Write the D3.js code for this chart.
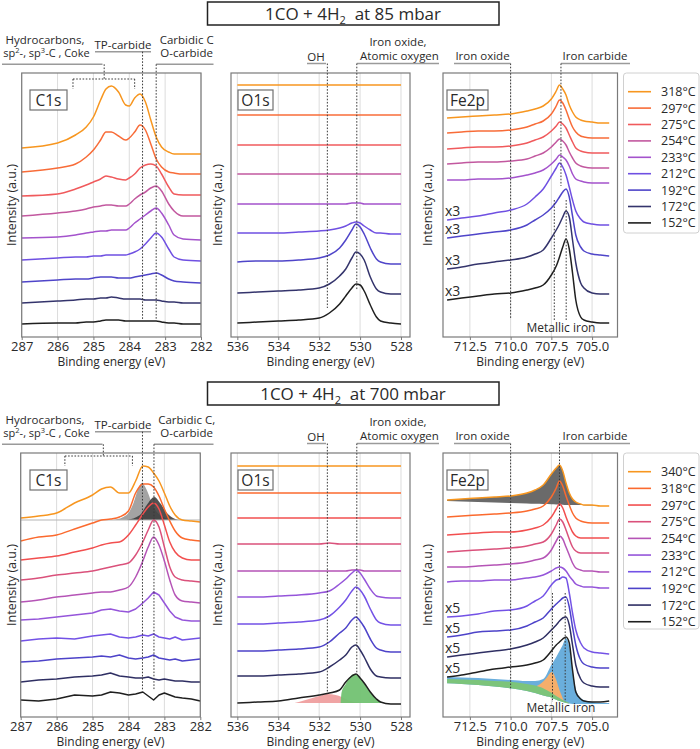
<!DOCTYPE html>
<html><head><meta charset="utf-8">
<script src="https://cdn.jsdelivr.net/npm/d3@7"></script>
<style>
body{margin:0;background:#fff}
svg{display:block}
text{font-family:"Open Sans",sans-serif;fill:#2a2a2a}
</style>
</head><body>
<svg id="c" width="700" height="749"></svg>
<script>
// ---------------- DATA ----------------
const temps85 = [318,297,275,254,233,212,192,172,152];
const temps700 = [340,318,297,275,254,233,212,192,172,152];
const colors85 = ["#f7961f","#f86c38","#f05a5c","#c2589f","#a453cc","#6f50e2","#4f45c9","#34346c","#1f1f1f"];
const colors700 = ["#f7961f","#fb6a2e","#f24f4f","#da517b","#b554b6","#9555da","#7352e6","#4d43c9","#2f2f63","#1f1f1f"];

const c1sTicks = [287,286,285,284,283,282];
const o1sTicks = [536,534,532,530,528];
const fe2pTicks = [712.5,710.0,707.5,705.0];

// C1s, 85 mbar
const c1sE85 = [287,286,285.5,285.2,285,284.8,284.65,284.5,284.3,284.1,284,283.85,283.7,283.55,283.4,283.25,283.1,282.9,282.75,282.5,282];
const c1s85 = [
 [189,194,202,210,220,237,248,251,245,232,231,239,243,235,217,200,190,185,183,183,183],
 [165,169,173,180,187,197,205,205,201,197,199,205,212,207,193,178,170,165,164,163,163],
 [141,143,148,152,155,158,161,160,158,157,159,163,169,172,173,171,163,150,143,142,142],
 [121,124,126,128,130,131,132,132,131,131,133,138,142,145,149,151,146,133,126,121,121],
 [99,100,102,104,105,106,106,107,107,107,109,114,118,122,126,129,124,112,102,98,97],
 [77,79,80,80,81,81,82,82,82,82,83,85,88,93,99,104,100,88,80,77,76],
 [55,57,58,58,59,60,60,60,59,59,59,60,61,62,63,64,62,58,56,55,54],
 [34,36,37,38,38,39,39,40,39,38,38,38,38,37,37,37,36,35,35,34,34],
 [13,14,14,15,15,16,17,17,17,16,16,16,16,16,16,16,15,14,14,13,13]
];

// O1s (both pressures share the energy grid)
const o1sE = [536,535,534,533,532,531.5,531,530.7,530.4,530.2,530,529.8,529.5,529.2,529,528.5,528];
const o1s85 = [
 [252,252,252,252,252,252,252,252,252,252,252,252,252,252,252,252,252],
 [222,222,222,222,222,222,222,222,222,222,222,222,222,222,222,222,222],
 [192,192,192,192,192,192,192,192,192,192,192,192,192,192,192,192,192],
 [163,163,163,163,163,163,163,163,163,163,163,163,163,163,163,163,163],
 [133,133,133,133,133,133,133,133,134,134,134,133,133,133,133,133,133],
 [104,104,104,105,106,107,109,111,114,115,114,111,107,104,104,103,103],
 [75,76,76,77,79,82,89,97,107,113,110,103,89,78,75,73,73],
 [44,45,46,47,49,53,61,68,79,85,83,77,60,48,45,43,43],
 [14,15,16,17,19,24,33,41,49,53,52,46,32,20,16,14,13]
];

// Fe2p (both pressures share the energy grid)
const fe2pE = [713.9,713,712,711,710,709,708.5,708,707.5,707.2,707,706.8,706.6,706.4,706.2,706,705.7,705.5,705,704.5,703.95];
const fe2p85 = [
 [219,220,221,222,223,226,228,231,238,246,252,248,242,232,225,220,217,216,215,214,214],
 [204,205,206,206,207,210,213,216,223,231,237,234,227,218,210,205,201,200,199,199,199],
 [188,189,190,190,191,194,197,200,206,211,215,213,209,202,195,189,186,185,184,184,184],
 [173,174,175,175,176,178,181,184,190,195,198,196,192,185,179,174,171,170,169,169,169],
 [157,157,158,158,159,162,164,167,173,178,182,180,177,171,163,158,156,155,154,154,154],
 [117,119,121,124,127,133,140,148,161,169,174,170,162,150,137,126,118,115,113,112,112],
 [99,101,103,105,107,112,117,122,129,135,140,145,148,140,121,102,90,86,83,82,81],
 [68,70,73,75,77,80,83,87,99,107,113,120,126,120,97,74,54,49,44,43,43],
 [37,39,41,43,44,47,49,52,62,71,80,90,98,88,64,37,20,17,15,14,14]
];
const fe2pScale85 = ["","","","","","x3","x3","x3","x3"];

// C1s, 700 mbar
const c1sE700 = [287,286.5,286,285.5,285,284.75,284.5,284.25,284,283.8,283.6,283.45,283.3,283.15,283,282.85,282.7,282.5,282.25,282];
const c1s700 = [
 [199,201,204,214,222,228,230,224,224,236,251,250,244,236,224,211,202,197,196,195],
 [176,180,182,188,194,197,198,200,206,224,233,233,230,221,208,196,186,179,177,176],
 [157,159,161,165,169,172,174,175,182,192,203,210,214,208,192,175,165,159,157,157],
 [137,139,142,144,146,148,150,152,154,162,175,187,197,190,170,150,140,137,136,135],
 [115,117,120,122,124,125,125,127,130,140,156,170,180,172,156,137,122,116,115,114],
 [97,98,100,102,104,107,108,106,105,108,114,119,125,122,114,106,100,97,96,96],
 [76,78,79,78,81,82,83,80,79,80,82,81,83,80,79,78,80,77,78,79],
 [55,56,58,59,60,61,60,62,59,58,59,60,62,59,58,57,58,56,57,58],
 [35,37,38,40,41,42,44,41,40,39,39,40,38,37,38,37,36,36,35,35],
 [17,16,18,22,21,22,25,24,22,23,25,21,17,22,24,22,20,19,18,16]
];
const c1sFitBase = 197;
const c1sTpE = [284.42,284.05,283.86,283.72,283.63,283.49,283.35,283.21,283.03,282.84];
const c1sTpV = [197,202,214,229,234,227,214,205,200,197];
const c1sOcE = [284.05,283.68,283.49,283.28,283.12,282.93,282.7,282.56];
const c1sOcV = [197,202,212,220,214,204,198,197];

// O1s, 700 mbar
const o1s700 = [
 [251,251,251,251,251,251,251,251,251,251,251,251,251,251,251,251,251],
 [224,224,224,224,224,224,224,224,224,224,224,224,224,224,224,224,224],
 [199,199,199,199,199,199,199,199,199,199,199,199,199,199,199,199,199],
 [173,173,173,173,173,174,173,173,173,173,173,173,173,173,173,173,173],
 [146,146,146,146,146,146,146,146,147,147,147,146,146,146,146,146,146],
 [120,120,121,122,124,126,133,138,144,147,144,138,128,121,120,119,119],
 [93,93,94,95,97,101,110,117,126,130,127,121,108,97,94,92,92],
 [66,66,67,68,70,75,84,89,97,100,96,90,78,69,67,65,65],
 [41,41,42,43,45,50,57,62,70,72,67,60,48,41,40,39,39],
 [14,15,16,19,22,24,27,35,41,43,39,34,25,18,15,13,13]
];
const o1sOhE = [533.2,533,532.5,532,531.6,531.2,530.9,530.6,530.3,530];
const o1sOhV = [14,15,18,21,23,22,20,17,15,14];
const o1sOxE = [530.95,530.9,530.7,530.5,530.3,530.2,530,529.8,529.5,529.2,529,528.8];
const o1sOxV = [14,25,33,40,43,43,39,34,25,18,15,14];
const o1sFitBase = 14;

// Fe2p, 700 mbar
const fe2p700 = [
 [217,218,219,220,221,224,227,232,243,249,252,246,234,224,218,215,213,212,212,211,211],
 [200,201,202,203,204,206,208,211,220,229,236,231,221,212,204,199,196,195,194,194,194],
 [182,183,184,185,185,187,189,192,200,208,213,209,200,192,185,181,179,179,179,179,179],
 [165,166,167,168,169,171,173,175,183,192,198,195,187,178,170,166,164,164,164,164,164],
 [150,150,151,152,153,155,157,159,167,176,181,178,170,162,154,149,147,146,146,145,145],
 [135,136,136,137,137,139,140,142,146,149,150,149,146,141,137,133,131,130,130,129,129],
 [100,101,103,106,107,111,116,121,132,137,138,140,139,124,104,87,74,69,65,64,63],
 [80,82,85,86,87,91,95,99,108,113,116,119,120,110,90,72,57,53,50,49,49],
 [60,62,64,66,68,72,75,79,87,92,96,99,100,92,72,52,38,34,31,30,30],
 [40,42,45,48,50,52,54,57,66,72,75,78,80,74,47,25,18,16,15,15,16]
];
const fe2pScale700 = ["","","","","","","x5","x5","x5","x5"];
const fe2pGrayBase = [216,215.5,215,214.5,214,213.5,213.2,213,212.8,212.6,212.4,212.2,212,212,212,212,212,211.8,211.5,211,211];
const fe2pBlueTop = [40,39.5,39,38,37,36,36,38,52,60,66,72,79,70,48,28,19,17,15,14,14];
const fe2pBlueBot = [33.7,33,32,30.5,28.7,26,24,21.5,19.5,17.2,16,15,14,13.5,13,13,13,13,13,13,13];
const fe2pGreenE = [713.9,713,712,711,710,709,708.5,708,707.5,707.2,707,706.8,706.6,706.4];
const fe2pGreenTop = [38,37.5,37,36,35.3,33,31.5,29,25,21,19,17,15.5,14];
const fe2pGreenBot = [33.7,33,32,30.5,28.7,26,24,21.5,19.5,17.2,16,15,14,13.5];
const fe2pOrE = [708.4,708.1,707.8,707.47,707.2,707,706.75];
const fe2pOrTop = [31,34,39,45,37,27,17];
const fe2pOrBot = [31,29.5,27,24,21,19,16.5];

// ---------------- DRAWING ----------------
const svg = d3.select("#c");
const DOT = "1.6,1.6";

function drawPanel(p){
  const g = svg.append("g");
  const x = d3.scaleLinear().domain(p.dom).range([p.x0,p.x1]);
  const y = d3.scaleLinear().domain([0,264]).range([p.y1,p.y0]);
  p.xs = x; p.ys = y;
  g.selectAll("line.grid").data(p.ticks).join("line")
    .attr("x1",d=>x(d)).attr("x2",d=>x(d)).attr("y1",p.y0).attr("y2",p.y1)
    .attr("stroke","#dcdcdc").attr("stroke-width",1);
  (p.fills||[]).forEach(f=>{
    const area = d3.area().x((d,i)=>x(f.E[i]))
      .y0((d,i)=>y(Array.isArray(f.lo)?f.lo[i]:f.lo)).y1(d=>y(d))
      .curve(d3.curveMonotoneX);
    g.append("path").datum(f.hi).attr("d",area).attr("fill",f.color).attr("opacity",f.op||1);
  });
  (p.hlines||[]).forEach(h=>{
    g.append("line").attr("x1",p.x0).attr("x2",p.x1).attr("y1",y(h)).attr("y2",y(h))
      .attr("stroke","#b5b5b5").attr("stroke-width",1.2);
  });
  p.traces.forEach((t,i)=>{
    const lin = p.noisy && i>=p.noisy;
    const line = d3.line().x((d,j)=>x(p.E[j])).y(d=>y(d))
      .curve(lin?d3.curveLinear:d3.curveMonotoneX);
    g.append("path").datum(t).attr("d",line).attr("fill","none")
      .attr("stroke",p.colors[i]).attr("stroke-width",1.5).attr("stroke-linejoin","round");
  });
  g.append("rect").attr("x",p.x0).attr("y",p.y0).attr("width",p.x1-p.x0).attr("height",p.y1-p.y0)
    .attr("fill","none").attr("stroke","#7a7a7a").attr("stroke-width",1.2);
  const ax = g.append("g").attr("transform",`translate(0,${p.y1})`)
    .call(d3.axisBottom(x).tickValues(p.ticks).tickFormat(p.fmt).tickSize(3).tickPadding(1.5));
  ax.select(".domain").remove();
  ax.selectAll(".tick line").attr("stroke","#7a7a7a");
  ax.selectAll("text").attr("font-size",13).attr("fill","#2a2a2a").attr("font-family","Open Sans");
  g.append("text").attr("x",(p.x0+p.x1)/2).attr("y",p.y1+29).attr("text-anchor","middle")
    .attr("font-size",12).text("Binding energy (eV)");
  g.append("text").attr("transform",`translate(${p.ylx},${(p.y0+p.y1)/2}) rotate(-90)`)
    .attr("text-anchor","middle").attr("font-size",12.5).attr("dy","0.35em").text("Intensity (a.u.)");
  g.append("rect").attr("x",p.lb[0]).attr("y",p.y0+17).attr("width",p.lb[1]).attr("height",20)
    .attr("fill","#fff").attr("stroke","#707070").attr("stroke-width",1.2);
  g.append("text").attr("x",p.lb[0]+p.lb[1]/2).attr("y",p.y0+33).attr("text-anchor","middle")
    .attr("font-size",15.5).text(p.name);
  if(p.mult){
    p.traces.forEach((t,i)=>{
      if(p.mult[i]) g.append("text").attr("x",p.x0+2).attr("y",y(t[0])-4).attr("font-size",14).text(p.mult[i]);
    });
  }
  return p;
}

function dotted(x1,y1,x2,y2){
  svg.append("line").attr("x1",x1).attr("y1",y1).attr("x2",x2).attr("y2",y2)
    .attr("stroke","#3a3a3a").attr("stroke-width",1).attr("stroke-dasharray",DOT);
}
function uline(x1,x2,yy){
  svg.append("line").attr("x1",x1).attr("x2",x2).attr("y1",yy).attr("y2",yy)
    .attr("stroke","#9a9a9a").attr("stroke-width",1.5);
}
function label(t,xx,yy,size,anchor){
  return svg.append("text").attr("x",xx).attr("y",yy).attr("font-size",size||11.5)
    .attr("text-anchor",anchor||"middle").text(t);
}

function title(dy,pressure){
  svg.append("rect").attr("x",207.5).attr("y",2+dy).attr("width",291.5).attr("height",23)
    .attr("fill","#fff").attr("stroke","#222").attr("stroke-width",1.5);
  const t = svg.append("text").attr("x",353).attr("y",19.5+dy).attr("text-anchor","middle")
    .attr("font-size",17).attr("xml:space","preserve");
  t.append("tspan").text("1CO + 4H");
  t.append("tspan").attr("font-size",11).attr("dy",4).text("2");
  t.append("tspan").attr("dy",-4).text("  at " + pressure + " mbar");
}

function legend(dy,temps,colors,h,step){
  svg.append("rect").attr("x",623.5).attr("y",73+dy).attr("width",75.5).attr("height",h).attr("rx",3)
    .attr("fill","#fff").attr("stroke","#d0d0d0");
  temps.forEach((t,i)=>{
    const yy = 91.7+dy+i*step;
    svg.append("line").attr("x1",628).attr("x2",651).attr("y1",yy).attr("y2",yy)
      .attr("stroke",colors[i]).attr("stroke-width",1.6);
    svg.append("text").attr("x",661).attr("y",yy).attr("dy","0.36em").attr("font-size",12.5).text(t+"°C");
  });
}

function section(dy, d){
  title(dy, d.pressure);
  const c = drawPanel({x0:d.c1sX[0],x1:d.c1sX[1],y0:73+dy,y1:337+dy,dom:[287,282],ticks:c1sTicks,fmt:d3.format("d"),
    E:d.c1sE,traces:d.c1s,colors:d.colors,name:"C1s",lb:[30,37],ylx:12,fills:d.c1sFills,hlines:d.c1sH,noisy:d.c1sNoisy});
  const o = drawPanel({x0:231,x1:410,y0:73+dy,y1:337+dy,dom:[536.31,527.56],ticks:o1sTicks,fmt:d3.format("d"),
    E:o1sE,traces:d.o1s,colors:d.colors,name:"O1s",lb:[238,35],ylx:218,fills:d.o1sFills});
  const f = drawPanel({x0:443,x1:617.5,y0:73+dy,y1:337+dy,dom:[714.15,703.44],ticks:fe2pTicks,fmt:d3.format(".1f"),
    E:fe2pE,traces:d.fe2p,colors:d.colors,name:"Fe2p",lb:[447,41],ylx:428,fills:d.fe2pFills,mult:d.mult});

  // C1s annotations
  label("Hydrocarbons,",45,43.5+dy);
  const sp = label("",46.5,57+dy,11);
  sp.append("tspan").text("sp");
  sp.append("tspan").attr("font-size",7.5).attr("dy",-4).text("2");
  sp.append("tspan").attr("dy",4).text("-, sp");
  sp.append("tspan").attr("font-size",7.5).attr("dy",-4).text("3");
  sp.append("tspan").attr("dy",4).text("-C , Coke");
  uline(2,102.5,64.3+dy);
  label("TP-carbide",123,48.5+dy);
  uline(95,151,51.7+dy);
  label(d.carbLabel,186.7,43.5+dy);
  label("O-carbide",186.7,57+dy);
  uline(c.xs(d.ocE),213.5,64.3+dy);
  const hx = c.xs(284.7);
  dotted(hx,64.3+dy,hx,d.brY+dy);
  dotted(c.xs(d.brE[0]),d.brY+dy,c.xs(d.brE[1]),d.brY+dy);
  dotted(c.xs(d.brE[0]),d.brY+dy,c.xs(d.brE[0]),d.brY+10+dy);
  dotted(c.xs(d.brE[1]),d.brY+dy,c.xs(d.brE[1]),d.brY+10+dy);
  dotted(c.xs(d.tpE),51.7+dy,c.xs(d.tpE),d.c1sEnd+dy);
  dotted(c.xs(d.ocE),64.3+dy,c.xs(d.ocE),d.c1sEnd+dy);

  // O1s annotations
  label("OH",316,60.5+dy);
  uline(307,326,63.5+dy);
  label("Iron oxide,",398,46+dy);
  label("Atomic oxygen",399.5,59.5+dy);
  uline(o.xs(530.16),439,63.5+dy);
  dotted(o.xs(531.6),63.5+dy,o.xs(531.6),d.ohEnd+dy);
  dotted(o.xs(530.16),63.5+dy,o.xs(530.16),d.oxEnd+dy);

  // Fe2p annotations
  label("Iron oxide",482.5,59.5+dy);
  uline(454,510.5,63.5+dy);
  label("Iron carbide",595,59.5+dy);
  uline(f.xs(d.carbE),630,63.5+dy);
  dotted(f.xs(710.0),63.5+dy,f.xs(710.0),d.feOxEnd+dy);
  dotted(f.xs(d.carbE),63.5+dy,f.xs(d.carbE),d.carbEnd+dy);
  d.metE.forEach(e=>dotted(f.xs(e),d.metY[0]+dy,f.xs(e),d.metY[1]+dy));
  label("Metallic iron",561,332+dy,12);
  legend(dy,d.temps,d.colors,d.legH,d.legStep);
}

section(0,{pressure:"85",temps:temps85,colors:colors85,c1sX:[21.7,201],c1sE:c1sE85,c1s:c1s85,o1s:o1s85,fe2p:fe2p85,
  mult:fe2pScale85,carbLabel:"Carbidic C",tpE:283.63,ocE:283.25,brE:[285.57,283.85],brY:79,c1sEnd:320,
  ohEnd:308,oxEnd:290,feOxEnd:318,carbE:706.91,carbEnd:186,metE:[707.32,706.59],metY:[200,320],legH:160,legStep:16.4});

section(380,{pressure:"700",temps:temps700,colors:colors700,c1sX:[20.7,200.3],c1sE:c1sE700,c1s:c1s700,o1s:o1s700,fe2p:fe2p700,
  mult:fe2pScale700,carbLabel:"Carbidic C,",tpE:283.61,ocE:283.29,brE:[285.77,283.89],brY:76,c1sEnd:310,
  ohEnd:313,oxEnd:295,feOxEnd:310,carbE:707.0,carbEnd:200,metE:[707.43,706.65],metY:[213,322],legH:176,legStep:16.67,
  c1sNoisy:5, c1sH:[c1sFitBase],
  c1sFills:[{E:c1sTpE,hi:c1sTpV,lo:c1sFitBase,color:"#a3a3a3"},{E:c1sOcE,hi:c1sOcV,lo:c1sFitBase,color:"#3a3a3a",op:0.88}],
  o1sFills:[{E:o1sOhE,hi:o1sOhV,lo:o1sFitBase,color:"#ee9a9a",op:0.9},{E:o1sOxE,hi:o1sOxV,lo:o1sFitBase,color:"#72c272",op:0.95}],
  fe2pFills:[{E:fe2pE,hi:fe2p700[0],lo:fe2pGrayBase,color:"#6a6a6a"},
             {E:fe2pE,hi:fe2pBlueTop,lo:fe2pBlueBot,color:"#6aaedc"},
             {E:fe2pGreenE,hi:fe2pGreenTop,lo:fe2pGreenBot,color:"#7cc47a"},
             {E:fe2pOrE,hi:fe2pOrTop,lo:fe2pOrBot,color:"#f5ae6b"}]
});
</script>
</body></html>
